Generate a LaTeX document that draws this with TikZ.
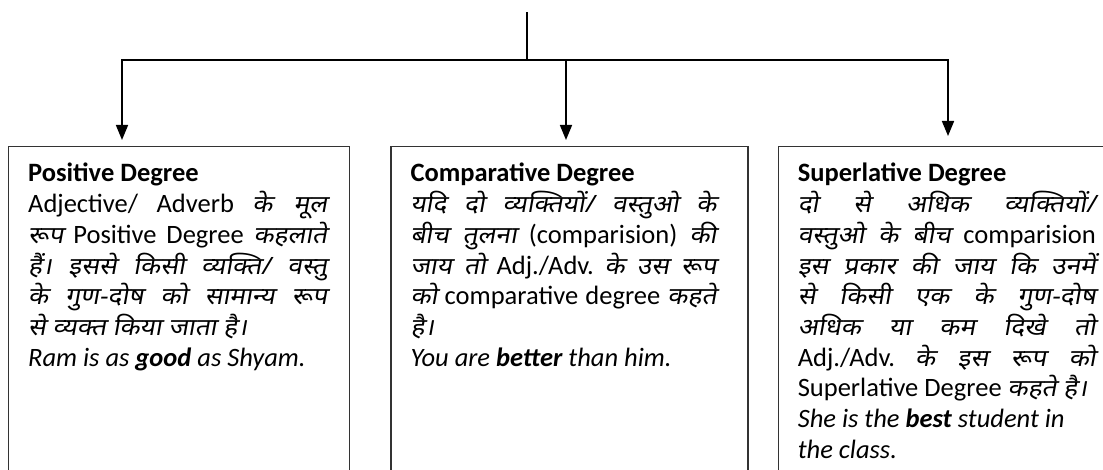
\documentclass[tikz,border=0pt]{standalone}
\usepackage{fontspec}
\setmainfont{Carlito}
\newfontfamily\hindifont[Script=Devanagari,FakeSlant=0.18,FakeStretch=1.1,Scale=0.9]{Noto Sans}
\newcommand\hi[1]{{\hindifont #1}}
\newcommand\degfont{\fontsize{26.5}{30.7}\selectfont\lineskiplimit=-100pt\relax\frenchspacing}
\usetikzlibrary{arrows.meta,positioning}

\tikzset{
  degbox/.style={draw=black!80,line width=1.3pt,minimum width=#1,minimum height=340pt,inner sep=0pt},
  degtext/.style={anchor=base west,inner sep=0pt,align=justify,text width=#1,font=\degfont},
  link/.style={line width=2pt,line cap=rect},
  downarrow/.style={line width=1.6pt,-{Triangle[length=15pt,width=12pt]}},
}

\begin{document}
\begin{tikzpicture}[x=1pt,y=-1pt,node distance=40pt]
  \useasboundingbox (0,0) rectangle (1103,470);
  \clip (0,0) rectangle (1103,470);

  % the three degree boxes
  \node[degbox=341pt,anchor=north west] (pos) at (8,146) {};
  \node[degbox=357pt,right=40pt of pos] (comp) {};
  \node[degbox=340pt,right=29pt of comp] (sup) {};

  \node[degtext=299pt] (posText) at ([xshift=20pt,yshift=-36pt]pos.north west) {%
    \textbf{Positive Degree}\\
    Adjective/ Adverb \hi{के मूल}\linebreak
    \hi{रूप} Positive Degree \hi{कहलाते}\linebreak
    \hi{हैं। इससे किसी व्यक्ति/ वस्तु}\linebreak
    \hi{के गुण-दोष को सामान्य रूप}\linebreak
    \hi{से व्यक्त किया जाता है।}\\
    \textit{Ram is as \textbf{good} as Shyam.}};
  \node[degtext=306pt] (compText) at ([xshift=20pt,yshift=-36pt]comp.north west) {%
    \textbf{Comparative Degree}\\
    \hi{यदि दो व्यक्तियों/ वस्तुओ के}\linebreak
    \hi{बीच तुलना} (comparision) \hi{की}\linebreak
    \hi{जाय तो} Adj./Adv. \hi{के उस रूप}\linebreak
    \hi{को} comparative degree \hi{कहते}\linebreak
    \hi{है।}\\
    \textit{You are \textbf{better} than him.}};
  \node[degtext=298pt] (supText) at ([xshift=20pt,yshift=-36pt]sup.north west) {%
    \textbf{Superlative Degree}\\
    \hi{दो से अधिक व्यक्तियों/}\linebreak
    \hi{वस्तुओ के बीच} comparision\linebreak
    \hi{इस प्रकार की जाय कि उनमें}\linebreak
    \hi{से किसी एक के गुण-दोष}\linebreak
    \hi{अधिक या कम दिखे तो}\linebreak
    Adj./Adv. \hi{के इस रूप को}\linebreak
    Superlative Degree \hi{कहते है।}\\
    \textit{She is the \textbf{best} student in}\\
    \textit{the class.}};

  % connectors
  \coordinate (root) at (527,13);
  \coordinate (fork) at (527,60);
  \coordinate (posIn) at (122,140);
  \coordinate (compIn) at (566,140);
  \coordinate (supIn) at (948,136);
  \draw[link,line width=1.4pt] (root) -- (fork);
  \draw[link] (fork -| posIn) -- (fork -| supIn);
  \draw[downarrow] (fork -| posIn) -- (posIn);
  \draw[downarrow] (fork -| compIn) -- (compIn);
  \draw[downarrow] (fork -| supIn) -- (supIn);
\end{tikzpicture}
\end{document}
